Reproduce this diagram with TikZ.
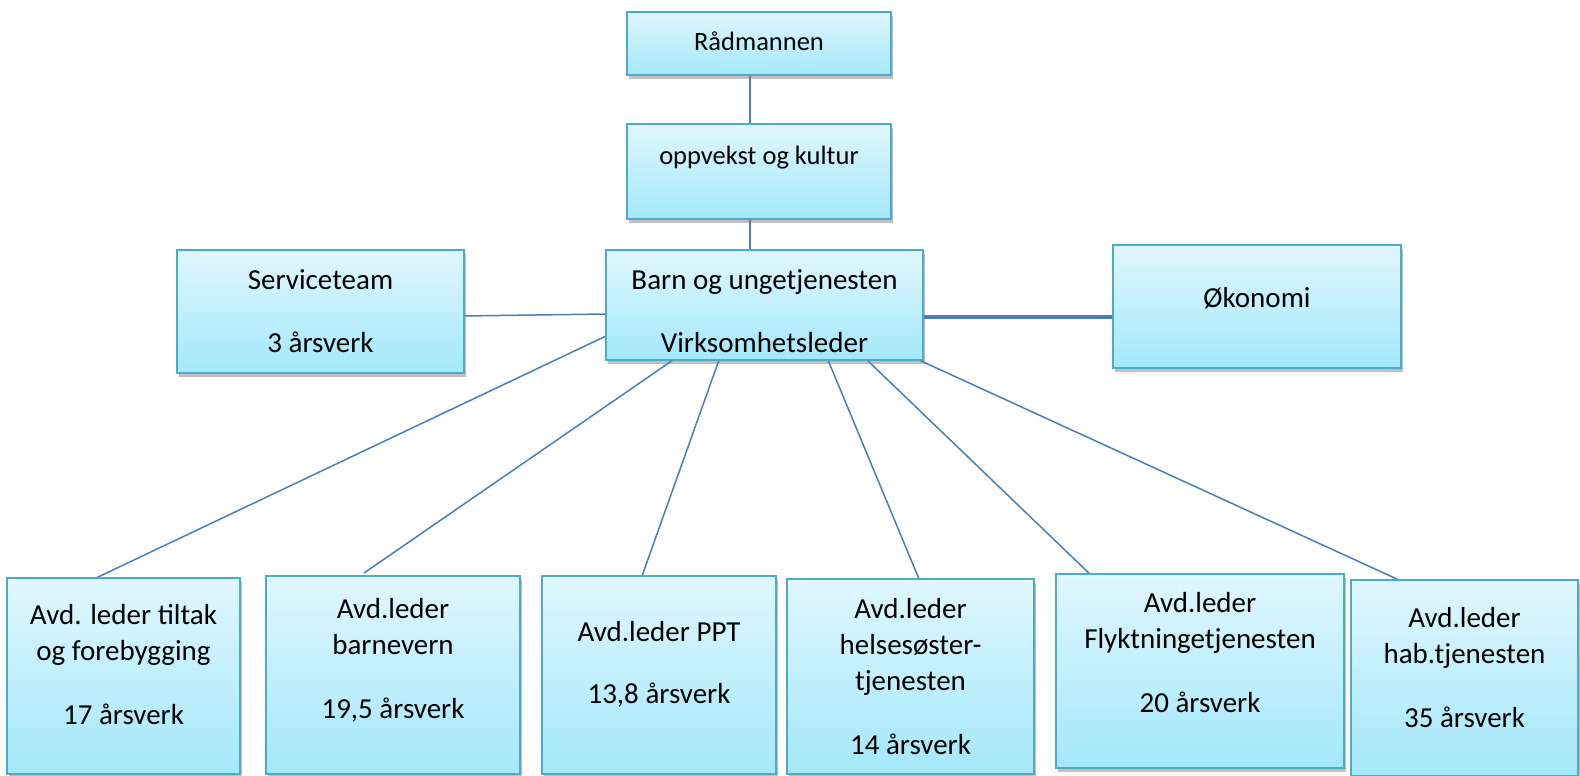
\documentclass[tikz,border=0pt]{standalone}
\usepackage{fontspec}
\setmainfont{Carlito}
\usetikzlibrary{shadows,calc}
\pgfdeclarelayer{background}
\pgfsetlayers{background,main}
\definecolor{boxborder}{HTML}{4BACC6}
\definecolor{boxtop}{HTML}{E0F7FD}
\definecolor{boxbot}{HTML}{A3E8FB}
\definecolor{linkblue}{HTML}{4A7EBB}
\tikzset{
  box/.style={draw=boxborder, line width=2pt, top color=boxtop, bottom color=boxbot,
    drop shadow={shadow xshift=1.5pt, shadow yshift=-4pt, opacity=0.45, fill=black!55},
    inner sep=0pt, outer sep=0pt},
  bigtxt/.style={font=\fontsize{29}{36}\selectfont, align=center, inner sep=0pt},
  smalltxt/.style={font=\fontsize{26.5}{32}\selectfont, align=center, inner sep=0pt},
  link/.style={draw=linkblue, line width=1.5pt},
  toplink/.style={draw=linkblue, line width=2.2pt},
  thicklink/.style={draw=linkblue, line width=3.5pt}
}
\begin{document}
\begin{tikzpicture}[x=1pt, y=-1pt]
\useasboundingbox (0,0) rectangle (1580,776);
% boxes
\node[box, minimum width=264pt, minimum height=63pt] (rad) at (759,43.5) {};
\node[box, minimum width=264pt, minimum height=95pt] (opp) at (759,171.5) {};
\node[box, minimum width=317pt, minimum height=110pt] (barn) at (764.5,305) {};
\node[box, minimum width=287pt, minimum height=123pt] (serv) at (320.5,311.5) {};
\node[box, minimum width=288pt, minimum height=123pt] (oko) at (1257,306.5) {};
\node[box, minimum width=233pt, minimum height=196pt] (b1) at (123.5,676) {};
\node[box, minimum width=254pt, minimum height=198pt] (b2) at (393,675) {};
\node[box, minimum width=234pt, minimum height=198pt] (b3) at (659,675) {};
\node[box, minimum width=247pt, minimum height=195pt] (b4) at (910.5,676.5) {};
\node[box, minimum width=288pt, minimum height=194pt] (b5) at (1200,671) {};
\node[box, minimum width=227pt, minimum height=196pt] (b6) at (1464.5,678) {};
% texts
\node[smalltxt] (radt) at (759,41) {Rådmannen};
\node[smalltxt] (oppt) at (759,158) {oppvekst og kultur};
\node[bigtxt] (barnt) at (764.5,311.5) {Barn og ungetjenesten\\[27pt]Virksomhetsleder};
\node[bigtxt] (servt) at (320.5,311.5) {Serviceteam\\[27pt]3 årsverk};
\node[bigtxt] (okot) at (1257,298) {Økonomi};
\node[bigtxt] (b1t) at (123.5,665) {Avd. leder tiltak\\og forebygging\\[28pt]17 årsverk};
\node[bigtxt] (b2t) at (393,660) {Avd.leder\\barnevern\\[28pt]19,5 årsverk};
\node[bigtxt] (b3t) at (659,664) {Avd.leder PPT\\[26pt]13,8 årsverk};
\node[bigtxt] (b4t) at (910.5,677) {Avd.leder\\helsesøster-\\tjenesten\\[28pt]14 årsverk};
\node[bigtxt] (b5t) at (1200,652.5) {Avd.leder\\Flyktningetjenesten\\[28pt]20 årsverk};
\node[bigtxt] (b6t) at (1464.5,667.5) {Avd.leder\\hab.tjenesten\\[28pt]35 årsverk};
% connectors
\begin{pgfonlayer}{background}
\draw[toplink] ($(rad.south)+(-9,0)$) -- ($(opp.north)+(-9,0)$);
\draw[toplink] ($(opp.south)+(-9,0)$) -- ($(barn.north)+(-14.5,0)$);
\draw[link] ($(serv.east)+(0,4.5)$) -- ($(barn.west)+(0,9)$);
\draw[thicklink] ($(barn.east)+(0,12)$) -- ($(oko.west)+(0,10.5)$);
\draw[link] ($(barn.west)+(0,31)$) -- ($(b1.north)+(-27.5,0)$);
\draw[link] ($(barn.south)+(-91.5,0)$) -- ($(b2.north)+(-29,-3)$);
\draw[link] ($(barn.south)+(-45.5,0)$) -- ($(b3.north)+(-17,0)$);
\draw[link] ($(barn.south)+(63.5,0)$) -- ($(b4.north)+(8.5,0)$);
\draw[link] ($(barn.south)+(102.5,0)$) -- ($(b5.north)+(-106,4)$);
\draw[link] ($(barn.south)+(154.5,0)$) -- ($(b6.north)+(-65.5,0)$);
\end{pgfonlayer}
\end{tikzpicture}
\end{document}
